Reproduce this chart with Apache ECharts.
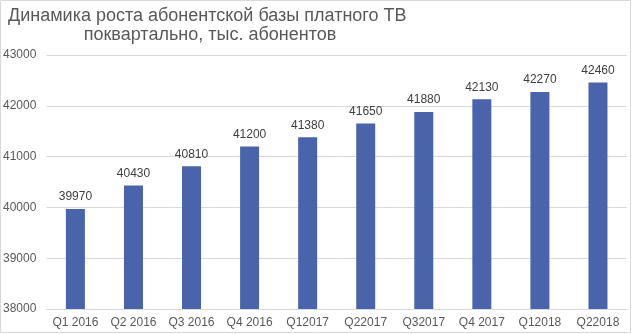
<!DOCTYPE html>
<html><head><meta charset="utf-8">
<script src="https://cdn.jsdelivr.net/npm/echarts@6/dist/echarts.min.js"></script>
<style>html,body{margin:0;padding:0;background:#fff}#c{width:632px;height:334px}</style>
</head><body><div id="c"></div>
<script>
const categories = ['Q1 2016','Q2 2016','Q3 2016','Q4 2016','Q12017','Q22017','Q32017','Q4 2017','Q12018','Q22018'];
const values = [39970, 40430, 40810, 41200, 41380, 41650, 41880, 42130, 42270, 42460];
const titleLine1 = 'Динамика роста абонентской базы платного ТВ';
const titleLine2 = 'поквартально, тыс. абонентов';
const yMin = 38000, yMax = 43000, yStep = 1000;

const font = 'Arial, "Liberation Sans", sans-serif';
const chart = echarts.init(document.getElementById('c'), null, {renderer:'canvas'});
chart.setOption({
  animation: false,
  backgroundColor: '#fff',
  title: [
    {text: titleLine1, left: 3, top: 2, textStyle:{fontFamily: font, fontSize: 18, fontWeight:'normal', color:'#595959'}},
    {text: titleLine2, left: 205, top: 21, textAlign:'center', textStyle:{fontFamily: font, fontSize: 18, fontWeight:'normal', color:'#595959'}}
  ],
  graphic: [{type:'rect', shape:{x:0.5,y:0.5,width:630,height:332}, style:{fill:'none', stroke:'#d9d9d9', lineWidth:1}, silent:true}],
  grid: {left: 45, right: 5, top: 55, bottom: 25, containLabel: false},
  xAxis: {
    type: 'category', data: categories,
    axisLine: {lineStyle:{color:'#d9d9d9'}},
    axisTick: {show:false},
    axisLabel: {fontFamily: font, fontSize: 12, color:'#595959', margin: 8, interval: 0}
  },
  yAxis: {
    type: 'value', min: yMin, max: yMax, interval: yStep,
    axisLine: {show:false}, axisTick:{show:false},
    splitLine: {lineStyle:{color:'#d9d9d9'}},
    axisLabel: {fontFamily: font, fontSize: 12, color:'#595959', margin: 10, align:'right', formatter: v => String(v)}
  },
  series: [{
    type: 'bar', data: values, barWidth: 19,
    itemStyle: {color: '#4a64ac'},
    label: {show: true, position: 'top', distance: 6, fontFamily: font, fontSize: 12, color:'#404040'}
  }]
});
</script></body></html>
